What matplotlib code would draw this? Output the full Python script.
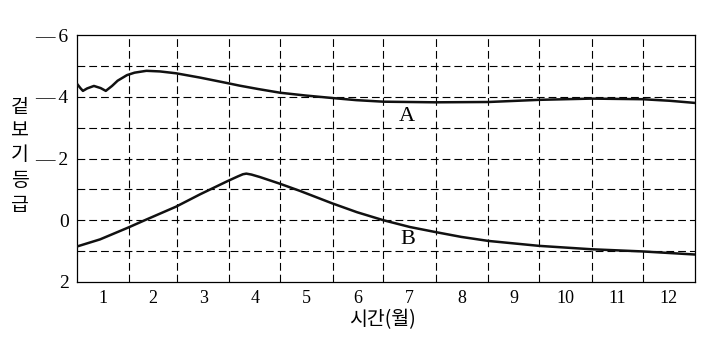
import matplotlib
matplotlib.use("Agg")
import matplotlib.pyplot as plt

# Month boundaries (day of year) and labels
month_edges = [0, 31, 59, 90, 120, 151, 181, 212, 243, 273, 304, 334, 365]
month_labels = [str(i) for i in range(1, 13)]

# Curve A: (day, apparent magnitude)
a_days = [0, 2, 3.5, 6, 10, 14, 17, 20.7, 24, 29.5, 34, 41, 49, 58.5, 72.7,
          89, 96, 107, 120, 135, 150.6, 165, 181, 211.5, 243, 273, 304, 334,
          350, 365]
a_mag = [-4.42, -4.28, -4.19, -4.27, -4.35, -4.28, -4.19, -4.35, -4.52,
         -4.7, -4.78, -4.84, -4.82, -4.76, -4.62, -4.44, -4.36, -4.25, -4.13,
         -4.04, -3.96, -3.89, -3.84, -3.82, -3.83, -3.9, -3.94, -3.92, -3.87,
         -3.8]

# Curve B
b_days = [0, 13.6, 30.1, 40, 58.5, 72.7, 89, 95, 98, 100, 103, 108, 120,
          131.7, 150.6, 165.4, 181, 196.7, 211.5, 227, 243, 273, 304, 334, 365]
b_mag = [0.85, 0.62, 0.24, 0.0, -0.44, -0.84, -1.27, -1.42, -1.49, -1.51,
         -1.48, -1.4, -1.18, -0.95, -0.55, -0.26, 0.0, 0.22, 0.38, 0.54, 0.67,
         0.83, 0.94, 1.01, 1.11]

y_ticks = [-6, -4, -2, 0, 2]
y_ticklabels = ["\u2014\u20096", "\u2014\u20094", "\u2014\u20092", "0", "2"]
y_grid = [-5, -4, -3, -2, -1, 0, 1]

serif = ["Liberation Serif", "DejaVu Serif"]
kr = ["Noto Sans CJK KR", "DejaVu Sans"]

fig = plt.figure(figsize=(7.1, 3.4), dpi=100)
ax = fig.add_axes([77/710, 1-282/340, (695-77)/710, (282-35)/340])

ax.set_xlim(0, 365)
ax.set_ylim(2, -6)

dash = (0, (7, 3.6))
for d in month_edges[1:-1]:
    ax.axvline(d, color="black", lw=0.8, linestyle=dash, zorder=1)
for g in y_grid:
    ax.axhline(g, color="black", lw=0.8, linestyle=dash, zorder=1)

ax.plot(a_days, a_mag, color="#111111", lw=1.8, zorder=3,
        solid_joinstyle="round", solid_capstyle="round")
ax.plot(b_days, b_mag, color="#111111", lw=1.8, zorder=3,
        solid_joinstyle="round", solid_capstyle="round")

ax.text(194.7, -3.36, "A", fontsize=16, family=serif, ha="center", va="center")
ax.text(195.5, 0.63, "B", fontsize=16, family=serif, ha="center", va="center")

centers = [(month_edges[i] + month_edges[i+1]) / 2 for i in range(12)]
ax.set_xticks(centers)
ax.set_xticklabels(month_labels, family=serif, fontsize=13)
ax.set_yticks(y_ticks)
ax.set_yticklabels(y_ticklabels, family=serif, fontsize=14)
ax.tick_params(length=0, pad=6)

for s in ax.spines.values():
    s.set_linewidth(0.9)

# Stacked vertical y-label
chars = ["겉", "보", "기", "등", "급"]
ypix = [107, 131, 155, 181, 205]
for c, yp in zip(chars, ypix):
    fig.text(20/710, 1-yp/340, c, family=kr, fontsize=14, ha="center", va="center")

fig.text(382/710, 1-320/340, "시간(월)", family=kr, fontsize=14, ha="center", va="center")

fig.savefig("out.png", dpi=100)
